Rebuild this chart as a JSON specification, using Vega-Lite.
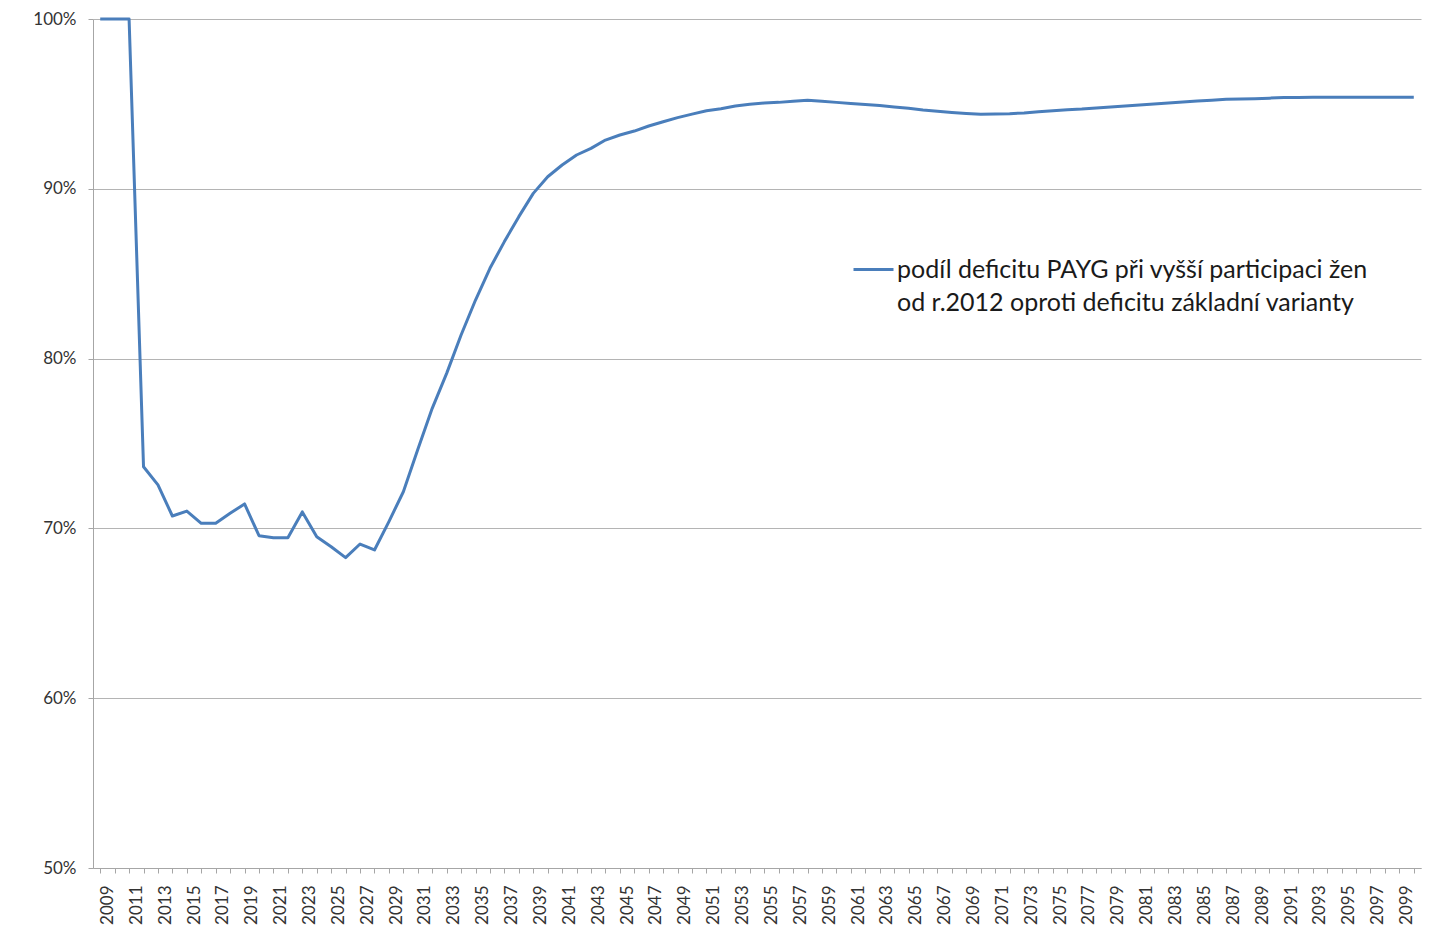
{
  "$schema": "https://vega.github.io/schema/vega-lite/v6.json",
  "width": 1328,
  "height": 849,
  "autosize": {"type": "none"},
  "padding": {"left": 93, "top": 19, "right": 19, "bottom": 66},
  "background": "white",
  "config": {"view": {"stroke": null}, "font": "Lato", "style": {"guide-label": {"lineHeight": 33}}},
  "data": {"values": [
    {"year": 2009, "v": 1.0}, {"year": 2010, "v": 1.0}, {"year": 2011, "v": 1.0},
    {"year": 2012, "v": 0.7363}, {"year": 2013, "v": 0.7256}, {"year": 2014, "v": 0.7073},
    {"year": 2015, "v": 0.7102}, {"year": 2016, "v": 0.7030}, {"year": 2017, "v": 0.7030},
    {"year": 2018, "v": 0.7089}, {"year": 2019, "v": 0.7144}, {"year": 2020, "v": 0.6957},
    {"year": 2021, "v": 0.6945}, {"year": 2022, "v": 0.6945}, {"year": 2023, "v": 0.7097},
    {"year": 2024, "v": 0.6951}, {"year": 2025, "v": 0.6892}, {"year": 2026, "v": 0.6828},
    {"year": 2027, "v": 0.6908}, {"year": 2028, "v": 0.6873}, {"year": 2029, "v": 0.7040},
    {"year": 2030, "v": 0.7216}, {"year": 2031, "v": 0.7465}, {"year": 2032, "v": 0.7707},
    {"year": 2033, "v": 0.7913}, {"year": 2034, "v": 0.8139}, {"year": 2035, "v": 0.8345},
    {"year": 2036, "v": 0.8532}, {"year": 2037, "v": 0.8689}, {"year": 2038, "v": 0.8836},
    {"year": 2039, "v": 0.8973}, {"year": 2040, "v": 0.9071}, {"year": 2041, "v": 0.9140},
    {"year": 2042, "v": 0.9199}, {"year": 2043, "v": 0.9238}, {"year": 2044, "v": 0.9287},
    {"year": 2045, "v": 0.9317}, {"year": 2046, "v": 0.9340}, {"year": 2047, "v": 0.9370},
    {"year": 2048, "v": 0.9395}, {"year": 2049, "v": 0.9419}, {"year": 2050, "v": 0.9440},
    {"year": 2051, "v": 0.9460}, {"year": 2052, "v": 0.9472}, {"year": 2053, "v": 0.9488},
    {"year": 2054, "v": 0.9498}, {"year": 2055, "v": 0.9505}, {"year": 2056, "v": 0.9509},
    {"year": 2057, "v": 0.9515}, {"year": 2058, "v": 0.9521}, {"year": 2059, "v": 0.9515},
    {"year": 2060, "v": 0.9509}, {"year": 2061, "v": 0.9503}, {"year": 2062, "v": 0.9497},
    {"year": 2063, "v": 0.9490}, {"year": 2064, "v": 0.9482}, {"year": 2065, "v": 0.9474},
    {"year": 2066, "v": 0.9464}, {"year": 2067, "v": 0.9457}, {"year": 2068, "v": 0.9450},
    {"year": 2069, "v": 0.9444}, {"year": 2070, "v": 0.9439}, {"year": 2071, "v": 0.9440},
    {"year": 2072, "v": 0.9442}, {"year": 2073, "v": 0.9447}, {"year": 2074, "v": 0.9454},
    {"year": 2075, "v": 0.9460}, {"year": 2076, "v": 0.9466}, {"year": 2077, "v": 0.9470},
    {"year": 2078, "v": 0.9476}, {"year": 2079, "v": 0.9482}, {"year": 2080, "v": 0.9488},
    {"year": 2081, "v": 0.9494}, {"year": 2082, "v": 0.9500}, {"year": 2083, "v": 0.9505},
    {"year": 2084, "v": 0.9511}, {"year": 2085, "v": 0.9517}, {"year": 2086, "v": 0.9522},
    {"year": 2087, "v": 0.9527}, {"year": 2088, "v": 0.9529}, {"year": 2089, "v": 0.9531},
    {"year": 2090, "v": 0.9534}, {"year": 2091, "v": 0.9537}, {"year": 2092, "v": 0.9538},
    {"year": 2093, "v": 0.9539}, {"year": 2094, "v": 0.9539}, {"year": 2095, "v": 0.9539},
    {"year": 2096, "v": 0.9539}, {"year": 2097, "v": 0.9539}, {"year": 2098, "v": 0.9539},
    {"year": 2099, "v": 0.9539}, {"year": 2100, "v": 0.9539}
  ]},
  "mark": {"type": "line", "strokeWidth": 3, "strokeJoin": "round"},
  "encoding": {
    "x": {
      "field": "year", "type": "ordinal",
      "scale": {"paddingInner": 0, "paddingOuter": 0},
      "axis": {
        "title": null, "bandPosition": 0, "labelOffset": 7.2, "labelAngle": -90,
        "labelAlign": "right", "labelBaseline": "middle",
        "labelExpr": "datum.value % 2 == 1 ? datum.label : ''",
        "labelOverlap": false, "tickSize": 5, "labelPadding": 12,
        "labelFontSize": 17, "labelColor": "#333333", "labelFont": "Lato",
        "domainColor": "#a6a6a6", "tickColor": "#a6a6a6", "grid": false
      }
    },
    "y": {
      "field": "v", "type": "quantitative",
      "scale": {"domain": [0.5, 1], "nice": false, "zero": false},
      "axis": {
        "title": null, "values": [0.5, 0.6, 0.7, 0.8, 0.9, 1.0], "format": ".0%",
        "grid": true, "gridColor": "#b4b4b4", "tickSize": 5, "labelPadding": 12,
        "labelFontSize": 17, "labelColor": "#333333", "labelFont": "Lato",
        "domainColor": "#a6a6a6", "tickColor": "#a6a6a6"
      }
    },
    "color": {
      "datum": "s",
      "scale": {"range": ["#4a7ebb"]},
      "legend": {
        "orient": "none", "legendX": 759, "legendY": 229, "title": null,
        "symbolType": "stroke", "symbolSize": 1600, "symbolStrokeWidth": 3,
        "labelFontSize": 25, "labelColor": "#1a1a1a", "labelFont": "Lato",
        "labelLimit": 0, "labelOffset": 2, "padding": 0,
        "labelExpr": "['podíl deficitu PAYG při vyšší participaci žen', 'od r.2012 oproti deficitu základní varianty']"
      }
    }
  }
}
